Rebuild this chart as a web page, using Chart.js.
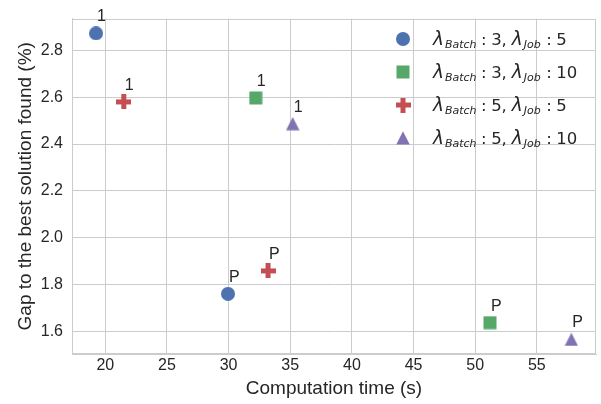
<!DOCTYPE html>
<html>
<head>
<meta charset="utf-8">
<script src="https://cdn.jsdelivr.net/npm/chart.js@4.4.0/dist/chart.umd.min.js"></script>
<style>
    html, body { margin: 0; padding: 0; background: #ffffff; }
</style>
</head>
<body>
<canvas id="chart" width="601" height="404"></canvas>
<script>
// Axis setup
const xTickValues = [20, 25, 30, 35, 40, 45, 50, 55];
const yTickValues = [1.6, 1.8, 2.0, 2.2, 2.4, 2.6, 2.8];
const xLimits = [17.3, 59.8];
const yLimits = [1.503, 2.936];

// Series: lambda values per series
const batchLambdas = [3, 3, 5, 5];
const jobLambdas = [5, 10, 5, 10];

// Computation time (s) and gap (%) per series, points tagged '1' and 'P'
const pointTags = ['1', 'P'];
const timeB3J5 = [19.25, 29.95];
const gapB3J5 = [2.873, 1.76];
const timeB3J10 = [32.2, 51.2];
const gapB3J10 = [2.597, 1.637];
const timeB5J5 = [21.5, 33.2];
const gapB5J5 = [2.58, 1.858];
const timeB5J10 = [35.2, 57.8];
const gapB5J10 = [2.487, 1.565];

const seriesColors = ['#4C72B0', '#55A868', '#C44E52', '#8172B2'];
const markerKinds = ['circle', 'square', 'plus', 'triangle'];

const textColor = '#262626';
const gridColor = '#cccccc';

// Marker images, like the matplotlib ones
function makeMarker(kind, color) {
    const c = document.createElement('canvas');
    const s = kind === 'plus' ? 15 : 14;
    c.width = s;
    c.height = s;
    const g = c.getContext('2d');
    g.fillStyle = color;
    if (kind === 'circle') {
        g.beginPath();
        g.arc(s / 2, s / 2, s / 2, 0, Math.PI * 2);
        g.fill();
    } else if (kind === 'square') {
        g.fillRect(0.5, 0.5, s - 1, s - 1);
    } else if (kind === 'plus') {
        g.fillRect(0, 5, 15, 5);
        g.fillRect(5, 0, 5, 15);
    } else {
        g.beginPath();
        g.moveTo(s / 2, 0.3);
        g.lineTo(s - 0.3, s - 0.5);
        g.lineTo(0.3, s - 0.5);
        g.closePath();
        g.fill();
    }
    return c;
}

const markers = markerKinds.map((k, i) => makeMarker(k, seriesColors[i]));

function toPoints(xs, ys) {
    return xs.map((x, i) => ({ x: x, y: ys[i] }));
}

const seriesData = [
    toPoints(timeB3J5, gapB3J5),
    toPoints(timeB3J10, gapB3J10),
    toPoints(timeB5J5, gapB5J5),
    toPoints(timeB5J10, gapB5J10)
];

const datasets = seriesData.map((pts, i) => ({
    label: 'lambda Batch ' + batchLambdas[i] + ', lambda Job ' + jobLambdas[i],
    data: pts,
    pointStyle: markers[i],
    backgroundColor: seriesColors[i],
    borderColor: seriesColors[i],
    showLine: false
}));

// Light gray box around the plot (top and right spines)
const framePlugin = {
    id: 'frame',
    beforeDatasetsDraw(chart) {
        const { ctx, chartArea: a } = chart;
        ctx.save();
        ctx.strokeStyle = gridColor;
        ctx.lineWidth = 1;
        ctx.strokeRect(Math.round(a.left) + 0.5, Math.round(a.top) + 0.5,
            Math.round(a.right - a.left) - 1, Math.round(a.bottom - a.top) - 1);
        ctx.restore();
    }
};

// '1' / 'P' tags above right of each point
const tagPlugin = {
    id: 'tags',
    afterDatasetsDraw(chart) {
        const ctx = chart.ctx;
        ctx.save();
        ctx.font = '16px "Liberation Sans", Arial, sans-serif';
        ctx.fillStyle = textColor;
        ctx.textAlign = 'left';
        ctx.textBaseline = 'alphabetic';
        chart.data.datasets.forEach((ds, i) => {
            chart.getDatasetMeta(i).data.forEach((pt, j) => {
                ctx.fillText(pointTags[j], pt.x + 1, pt.y - 12);
            });
        });
        ctx.restore();
    }
};

// Legend with math-like subscripts
const legendPlugin = {
    id: 'mathLegend',
    afterDraw(chart) {
        const ctx = chart.ctx;
        const markerX = 403;
        const textX = 433;
        const firstRow = 39;
        const rowGap = 33;
        ctx.save();
        ctx.fillStyle = textColor;
        ctx.textBaseline = 'alphabetic';
        ctx.textAlign = 'left';
        const big = '16.5px "DejaVu Sans", sans-serif';
        const lam = 'italic 18.5px "DejaVu Sans", sans-serif';
        const subIt = 'italic 11px "DejaVu Sans", sans-serif';
        batchLambdas.forEach((b, i) => {
            const cy = firstRow + i * rowGap;
            const m = markers[i];
            ctx.drawImage(m, markerX - m.width / 2, cy - m.height / 2);
            const base = cy + 6.3;
            // pre = extra gap in px before the piece
            const parts = [
                { t: '\u03bb', f: lam, dy: 0, pre: 0 },
                { t: 'Batch', f: subIt, dy: 2.4, pre: 1 },
                { t: ':', f: big, dy: 0, pre: 4.5 },
                { t: String(b) + ',', f: big, dy: 0, pre: 4.5 },
                { t: '\u03bb', f: lam, dy: 0, pre: 5 },
                { t: 'Job', f: subIt, dy: 2.4, pre: 1 },
                { t: ':', f: big, dy: 0, pre: 5.5 },
                { t: String(jobLambdas[i]), f: big, dy: 0, pre: 4.5 }
            ];
            let x = textX;
            parts.forEach(p => {
                x += p.pre;
                ctx.font = p.f;
                ctx.fillText(p.t, x, base + p.dy);
                x += ctx.measureText(p.t).width;
            });
        });
        ctx.restore();
    }
};

new Chart(document.getElementById('chart'), {
    type: 'scatter',
    data: { datasets: datasets },
    options: {
        responsive: false,
        animation: false,
        events: [],
        layout: { padding: { top: 13, right: 4, left: 0, bottom: 0 } },
        plugins: {
            legend: { display: false },
            tooltip: { enabled: false }
        },
        scales: {
            x: {
                type: 'linear',
                min: xLimits[0],
                max: xLimits[1],
                afterBuildTicks: scale => { scale.ticks = xTickValues.map(v => ({ value: v })); },
                afterFit: scale => { scale.height = 50; },
                grid: { color: gridColor, lineWidth: 1, drawTicks: false },
                border: { color: gridColor, width: 1 },
                ticks: {
                    color: textColor,
                    padding: 2,
                    font: { family: '"Liberation Sans", Arial, sans-serif', size: 16 },
                    callback: v => String(v)
                },
                title: {
                    display: true,
                    text: 'Computation time (s)',
                    color: textColor,
                    font: { family: '"Liberation Sans", Arial, sans-serif', size: 19 },
                    padding: { top: 0, bottom: 4 }
                }
            },
            y: {
                type: 'linear',
                min: yLimits[0],
                max: yLimits[1],
                afterBuildTicks: scale => { scale.ticks = yTickValues.map(v => ({ value: v })); },
                afterFit: scale => { scale.width = 72; },
                grid: { color: gridColor, lineWidth: 1, drawTicks: false },
                border: { color: gridColor, width: 1 },
                ticks: {
                    color: textColor,
                    padding: 9,
                    font: { family: '"Liberation Sans", Arial, sans-serif', size: 16 },
                    callback: v => v.toFixed(1)
                },
                title: {
                    display: true,
                    text: 'Gap to the best solution found (%)',
                    color: textColor,
                    font: { family: '"Liberation Sans", Arial, sans-serif', size: 19 },
                    padding: { top: 14, bottom: 0 }
                }
            }
        }
    },
    plugins: [framePlugin, tagPlugin, legendPlugin]
});
</script>
</body>
</html>
